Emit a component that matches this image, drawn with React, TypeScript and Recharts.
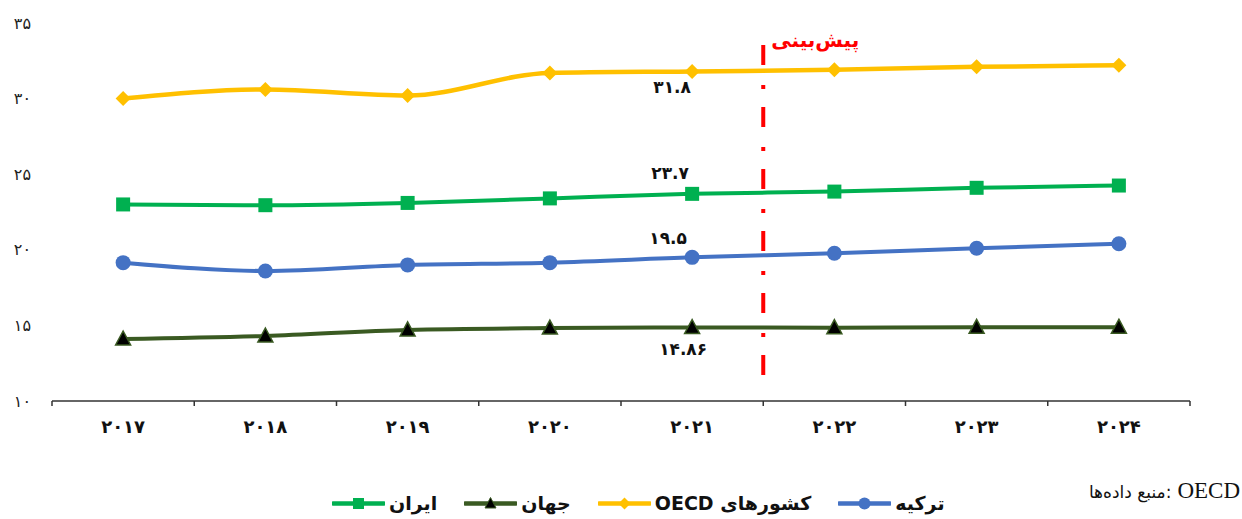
import React from 'react';
import { LineChart, Line, XAxis, YAxis, ReferenceLine, LabelList } from 'recharts';

const years = ['۲۰۱۷', '۲۰۱۸', '۲۰۱۹', '۲۰۲۰', '۲۰۲۱', '۲۰۲۲', '۲۰۲۳', '۲۰۲۴'];
const iran = [23.0, 22.95, 23.1, 23.4, 23.7, 23.85, 24.1, 24.25];
const world = [14.1, 14.3, 14.7, 14.82, 14.86, 14.85, 14.87, 14.88];
const oecd = [30.0, 30.6, 30.2, 31.7, 31.8, 31.9, 32.1, 32.2];
const turkey = [19.15, 18.6, 19.0, 19.15, 19.5, 19.77, 20.1, 20.4];
const yTicks = [10, 15, 20, 25, 30, 35];
const forecastAt = 4.5;
const forecastRange = [33.55, 11.2];
const labelIndex = 4;
const forecastText = 'پیش‌بینی';
const sourceLabel = 'منبع داده‌ها';
const sourceName = 'OECD';

const C = { iran: '#00B050', world: '#3A5A22', oecd: '#FFC000', turkey: '#4472C4' };
const seriesNames = { iran: 'ایران', world: 'جهان', oecd: 'کشورهای OECD', turkey: 'ترکیه' };

const data = years.map((y, i) => ({ idx: i, year: y, iran: iran[i], world: world[i], oecd: oecd[i], turkey: turkey[i] }));
const xTicks = years.flatMap((_, i) => [i - 0.5, i]).concat([years.length - 0.5]);

const FA = '۰۱۲۳۴۵۶۷۸۹';
const toFa = (v: number | string) => String(v).replace(/\d/g, (d) => FA[Number(d)]);
const FONT = '"DejaVu Sans", sans-serif';

const XTick = (props: any) => {
  const { x, y, payload } = props;
  const v = payload.value;
  if (Number.isInteger(v)) {
    return (
      <text x={x} y={y} dy={32} textAnchor="middle" fontFamily={FONT} fontWeight="bold" fontSize={18} fill="#111">
        {years[v]}
      </text>
    );
  }
  return <line x1={x} x2={x} y1={y} y2={y + 5} stroke="#333" strokeWidth={1.5} />;
};

const YTick = (props: any) => {
  const { x, y, payload } = props;
  return (
    <text x={x} y={y} dy="0.35em" textAnchor="end" fontFamily={FONT} fontSize={16} fill="#222">
      {toFa(payload.value)}
    </text>
  );
};

const squareDot = (p: any) => (
  <rect key={`s${p.index}`} x={p.cx - 7} y={p.cy - 7} width={14} height={14} fill={C.iran} />
);
const circleDot = (p: any) => <circle key={`c${p.index}`} cx={p.cx} cy={p.cy} r={7.5} fill={C.turkey} />;
const diamondDot = (p: any) => (
  <path key={`d${p.index}`} d={`M${p.cx},${p.cy - 7.5}L${p.cx + 7.5},${p.cy}L${p.cx},${p.cy + 7.5}L${p.cx - 7.5},${p.cy}Z`} fill={C.oecd} />
);
const triDot = (p: any) => (
  <path key={`t${p.index}`} d={`M${p.cx},${p.cy - 8}L${p.cx + 7.5},${p.cy + 6}L${p.cx - 7.5},${p.cy + 6}Z`} fill="#000" stroke={C.world} strokeWidth={1.5} />
);

const makeLabel = (dx: number, dy: number) => (p: any) => {
  if (p.index !== labelIndex) return null;
  return (
    <text x={p.x + dx} y={p.y + dy} dy="0.35em" textAnchor="middle" fontFamily={FONT} fontWeight="bold" fontSize={17} fill="#111">
      {toFa(p.value)}
    </text>
  );
};

const ForecastLabel = (props: any) => {
  const vb = props.viewBox || {};
  return (
    <text x={vb.x + 8} y={vb.y + 2} textAnchor="start" fontFamily={FONT} fontWeight="bold" fontSize={20} fill="#FF0000">
      {forecastText}
    </text>
  );
};

const LegendIcon = ({ kind }: { kind: keyof typeof C }) => {
  const c = C[kind];
  let m: React.ReactNode = null;
  if (kind === 'iran') m = <rect x={21} y={2} width={11} height={11} fill={c} />;
  if (kind === 'turkey') m = <circle cx={26.5} cy={7.5} r={6} fill={c} />;
  if (kind === 'oecd') m = <path d="M26.5,1.5L32.5,7.5L26.5,13.5L20.5,7.5Z" fill={c} />;
  if (kind === 'world') m = <path d="M26.5,1.5L32,12L21,12Z" fill="#000" stroke={c} strokeWidth={1} />;
  return (
    <svg width={53} height={15} style={{ display: 'block' }}>
      <line x1={1} x2={52} y1={7.5} y2={7.5} stroke={c} strokeWidth={4.5} strokeLinecap="round" />
      {m}
    </svg>
  );
};

const legendOrder: (keyof typeof C)[] = ['iran', 'world', 'oecd', 'turkey'];

export default function App() {
  return (
    <div style={{ position: 'absolute', left: 0, top: 0, width: 1242, height: 519, background: '#fff' }}>
      <LineChart width={1242} height={519} data={data} margin={{ top: 23, right: 52, bottom: 0, left: 0 }}>
        <XAxis
          dataKey="idx"
          type="number"
          domain={[-0.5, years.length - 0.5]}
          ticks={xTicks}
          interval={0}
          tickLine={false}
          tickSize={0}
          tickMargin={0}
          axisLine={{ stroke: '#333', strokeWidth: 1.5 }}
          tick={<XTick />}
          height={118}
        />
        <YAxis
          domain={[10, 35]}
          ticks={yTicks}
          axisLine={false}
          tickLine={false}
          tickSize={0}
          tickMargin={21}
          width={52}
          tick={<YTick />}
        />
        <ReferenceLine
          segment={[{ x: forecastAt, y: forecastRange[0] }, { x: forecastAt, y: forecastRange[1] }]}
          stroke="#FF0000"
          strokeWidth={4}
          strokeDasharray="20 20 4 18"
          label={<ForecastLabel />}
        />
        <Line type="monotone" dataKey="oecd" stroke={C.oecd} strokeWidth={4.5} dot={diamondDot} isAnimationActive={false}>
          <LabelList dataKey="oecd" content={makeLabel(-20, 16)} />
        </Line>
        <Line type="monotone" dataKey="iran" stroke={C.iran} strokeWidth={4} dot={squareDot} isAnimationActive={false}>
          <LabelList dataKey="iran" content={makeLabel(-22, -21)} />
        </Line>
        <Line type="monotone" dataKey="turkey" stroke={C.turkey} strokeWidth={4} dot={circleDot} isAnimationActive={false}>
          <LabelList dataKey="turkey" content={makeLabel(-24, -19)} />
        </Line>
        <Line type="monotone" dataKey="world" stroke={C.world} strokeWidth={4} dot={triDot} isAnimationActive={false}>
          <LabelList dataKey="world" content={makeLabel(-9, 22)} />
        </Line>
      </LineChart>
      <div style={{ position: 'absolute', left: 332, top: 492, display: 'flex', alignItems: 'center', gap: 27, fontFamily: FONT, fontWeight: 'bold', fontSize: 19, color: '#111', whiteSpace: 'nowrap' }}>
        {legendOrder.map((k) => (
          <div key={k} style={{ display: 'flex', alignItems: 'center', gap: 4 }}>
            <LegendIcon kind={k} />
            <span style={{ direction: 'rtl', unicodeBidi: 'isolate', lineHeight: '22px' }}>{seriesNames[k]}</span>
          </div>
        ))}
      </div>
      <div style={{ position: 'absolute', right: 2, top: 478, whiteSpace: 'nowrap', color: '#111', display: 'flex', alignItems: 'baseline' }}>
        <span style={{ fontFamily: FONT, fontSize: 17, direction: 'rtl', unicodeBidi: 'isolate' }}>{sourceLabel}</span>
        <span style={{ fontFamily: FONT, fontSize: 17, marginRight: 6 }}>:</span>
        <span style={{ fontFamily: '"Liberation Serif", serif', fontSize: 23 }}>{sourceName}</span>
      </div>
    </div>
  );
}
